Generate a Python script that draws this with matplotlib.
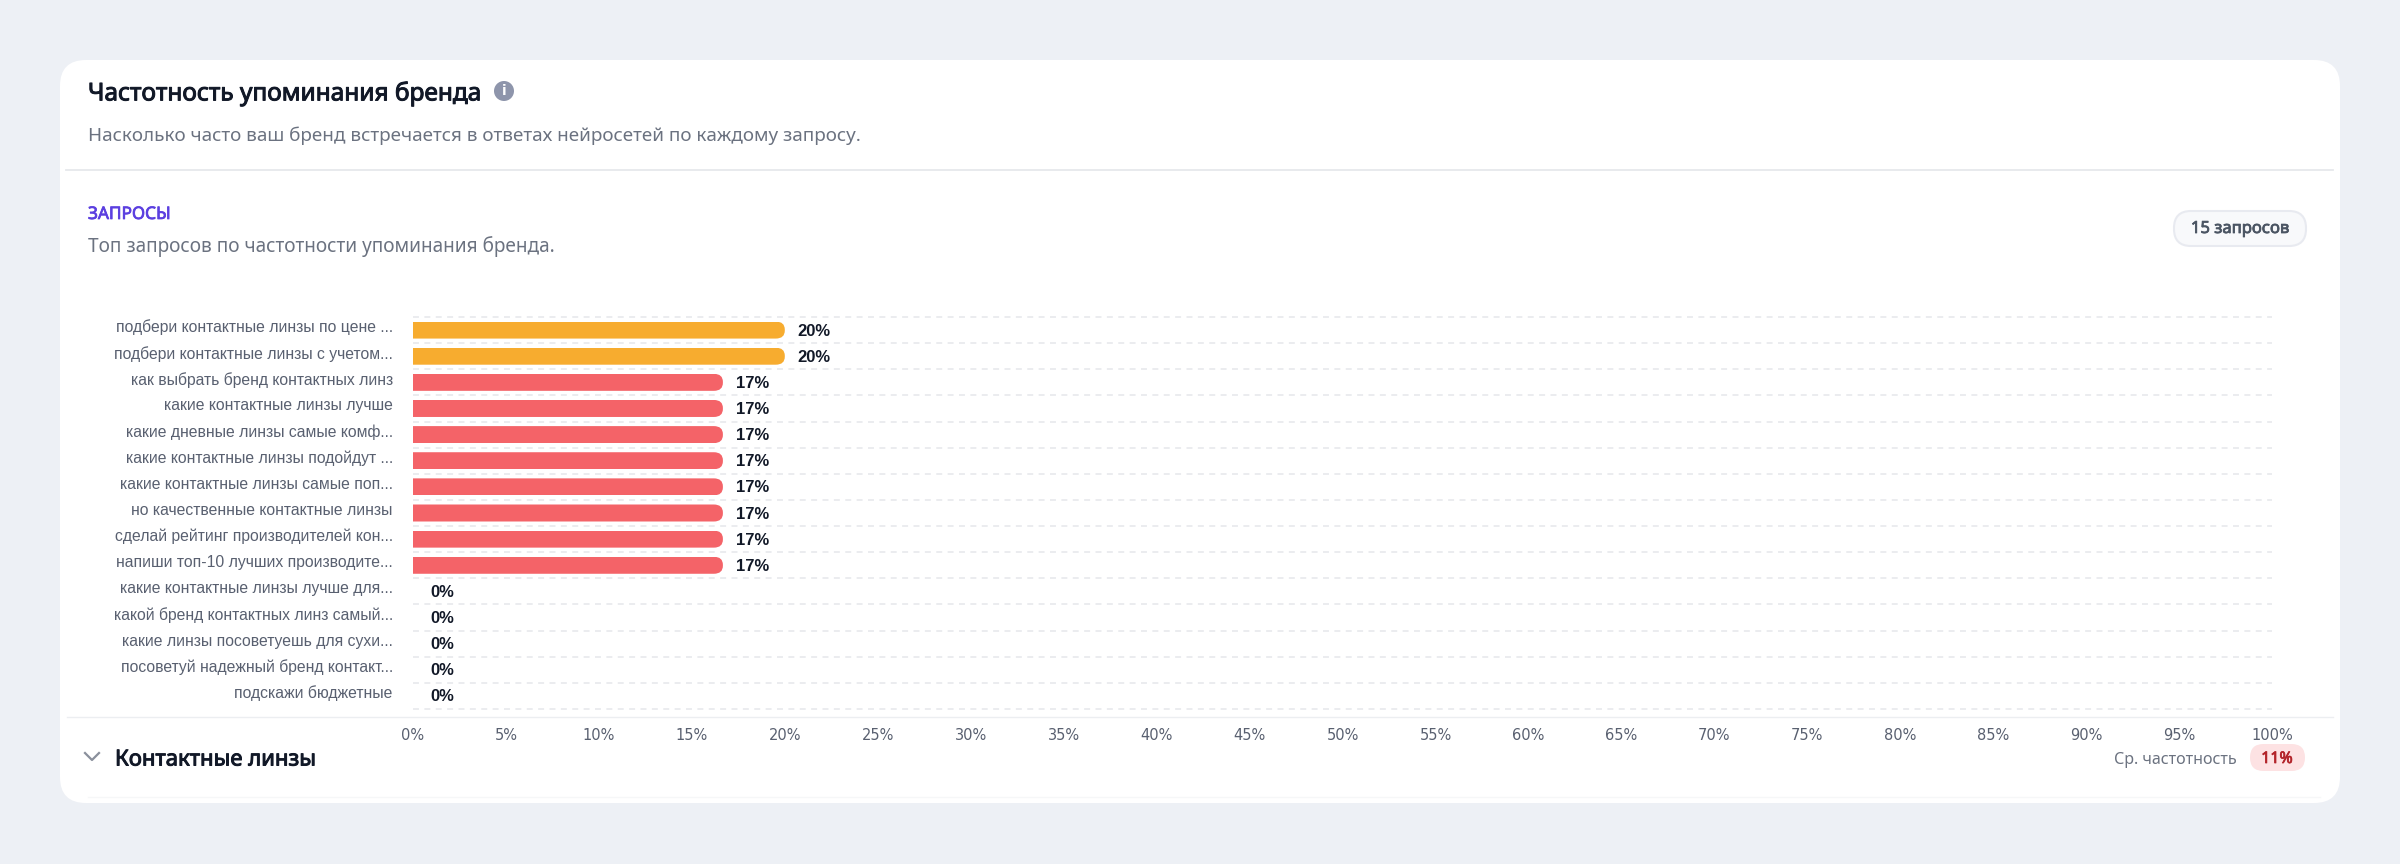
import matplotlib
matplotlib.use('Agg')
import matplotlib.pyplot as plt
import matplotlib.patheffects as pe
from matplotlib.patches import FancyBboxPatch, Circle
from matplotlib.path import Path
from matplotlib.transforms import ScaledTranslation

queries = ['подбери контактные линзы по цене ...', 'подбери контактные линзы с учетом...',
           'как выбрать бренд контактных линз', 'какие контактные линзы лучше',
           'какие дневные линзы самые комф...', 'какие контактные линзы подойдут ...',
           'какие контактные линзы самые поп...', 'но качественные контактные линзы',
           'сделай рейтинг производителей кон...', 'напиши топ-10 лучших производите...',
           'какие контактные линзы лучше для...', 'какой бренд контактных линз самый...',
           'какие линзы посоветуешь для сухи...', 'посоветуй надежный бренд контакт...',
           'подскажи бюджетные']
values = [20, 20, 16.67, 16.67, 16.67, 16.67, 16.67, 16.67, 16.67, 16.67, 0, 0, 0, 0, 0]
bar_colors = ['#f7ac2f', '#f7ac2f', '#f46368', '#f46368', '#f46368', '#f46368', '#f46368',
              '#f46368', '#f46368', '#f46368', '#f46368', '#f46368', '#f46368', '#f46368', '#f46368']
x_ticks = list(range(0, 105, 5))
query_count = '15 запросов'
avg_freq = '11%'

W, H = 2400, 864
fig = plt.figure(figsize=(W / 100, H / 100), dpi=100, facecolor='#edf0f5')

# фон карточки и подписи, координаты в пикселях
bg = fig.add_axes([0, 0, 1, 1])
bg.set_xlim(0, W)
bg.set_ylim(H, 0)
bg.axis('off')
bg.add_patch(FancyBboxPatch((60, 60), 2280, 743, boxstyle='round,pad=0,rounding_size=26',
                            fc='white', ec='none'))
bg.plot([66, 2333], [170, 170], color='#e6e8ec', lw=1.3)
bg.plot([67, 2333], [717, 717], color='#eceef1', lw=1)
bg.plot([88, 2320], [797, 797], color='#f6f7f8', lw=1)

main = ['Noto Sans', 'DejaVu Sans']


# полужирный у Noto Sans не подхватывается, утолщаем обводкой
def heavy(txt, width=0.55):
    txt.set_path_effects([pe.withStroke(linewidth=width, foreground=txt.get_color())])


heavy(bg.text(88, 94, 'Частотность упоминания бренда', family=main, fontsize=17.6,
              color='#111827', va='center'), 0.7)
bg.add_patch(Circle((504, 91), 10, fc='#8e95ab', ec='none'))
bg.text(504, 91, 'i', family='DejaVu Sans', fontsize=10, weight='bold', color='white', ha='center', va='center')
bg.text(88, 136, 'Насколько часто ваш бренд встречается в ответах нейросетей по каждому запросу.',
        family=main, fontsize=13.6, color='#6b7280', va='center')
heavy(bg.text(88, 214, 'ЗАПРОСЫ', family=main, fontsize=12.4, color='#5b3fe0', va='center'))
bg.text(88, 247, 'Топ запросов по частотности упоминания бренда.', family=main, fontsize=13.7,
        color='#6b7280', va='center')

bg.add_patch(FancyBboxPatch((2174, 211), 132, 35, boxstyle='round,pad=0,rounding_size=17',
                            fc='#f8f9fb', ec='#e8eaf0', lw=1.5))
heavy(bg.text(2240, 229, query_count, family=main, fontsize=12, color='#4b5563',
              ha='center', va='center'))

bg.plot([85, 92, 99], [753, 760, 753], color='#8a909c', lw=1.6)
heavy(bg.text(115, 760, 'Контактные линзы', family=main, fontsize=15.9, color='#111827',
              va='center'), 0.7)
bg.text(2237, 760, 'Ср. частотность', family=main, fontsize=11.6, color='#6b7280', ha='right', va='center')
bg.add_patch(FancyBboxPatch((2250, 744), 55, 27, boxstyle='round,pad=0,rounding_size=13.5',
                            fc='#fde2e3', ec='none'))
heavy(bg.text(2277, 759, avg_freq, family=main, fontsize=11.5, color='#b3242a',
              ha='center', va='center'))

# график
ax = fig.add_axes([413 / W, 1 - 709 / H, (2272 - 413) / W, (709 - 317) / H])
ax.patch.set_alpha(0)
rows = list(range(len(queries)))
bars = ax.barh(rows, values, height=17 / 26.13, color=bar_colors, zorder=3)
ax.set_xlim(0, 100)
ax.set_ylim(len(queries) - 0.5, -0.5)

# скругляем правый край столбика
rx = 9 * 100 / (2272 - 413)
ry = 8 / 26.13
for rect, v in zip(bars, values):
    if v == 0:
        continue
    y0, y1 = rect.get_y(), rect.get_y() + rect.get_height()
    clip = Path([(-1, y0), (v - rx, y0), (v, y0), (v, y0 + ry), (v, y1 - ry), (v, y1), (v - rx, y1),
                 (-1, y1), (-1, y0)],
                [Path.MOVETO, Path.LINETO, Path.CURVE3, Path.CURVE3, Path.LINETO, Path.CURVE3,
                 Path.CURVE3, Path.LINETO, Path.CLOSEPOLY])
    rect.set_clip_path(clip, ax.transData)

for i, v in enumerate(values):
    off = 0.68 if v > 0 else 0.92
    ax.text(v + off, i + 0.04, f'{v:.0f}%', family='Liberation Sans', fontsize=12, weight='bold',
            color='#111827', va='center', zorder=4)

ax.set_yticks(rows)
ax.set_yticklabels(queries, family='Liberation Sans', fontsize=11.3, color='#596070')
ax.set_yticks([r - 0.5 for r in rows] + [len(queries) - 0.5], minor=True)
ax.set_xticks(x_ticks)
ax.set_xticklabels([f'{t}%' for t in x_ticks], family='DejaVu Sans', fontsize=10.5, color='#596070')
ax.tick_params(axis='y', which='both', length=0, pad=14.5)
ax.tick_params(axis='x', length=0, pad=14)
ax.grid(which='minor', axis='y', color='#e9ebee', lw=1.3, ls=(0, (3.3, 3)), zorder=1)
ax.grid(which='major', visible=False)
for t in ax.yaxis.get_minor_ticks():
    t.gridline.set_clip_on(False)
for s in ax.spines.values():
    s.set_visible(False)

# подписи запросов чуть выше центра столбика
up = ScaledTranslation(0, 4 / 100, fig.dpi_scale_trans)
for lab in ax.get_yticklabels():
    lab.set_transform(lab.get_transform() + up)

fig.savefig('out.png', dpi=100, facecolor=fig.get_facecolor())
